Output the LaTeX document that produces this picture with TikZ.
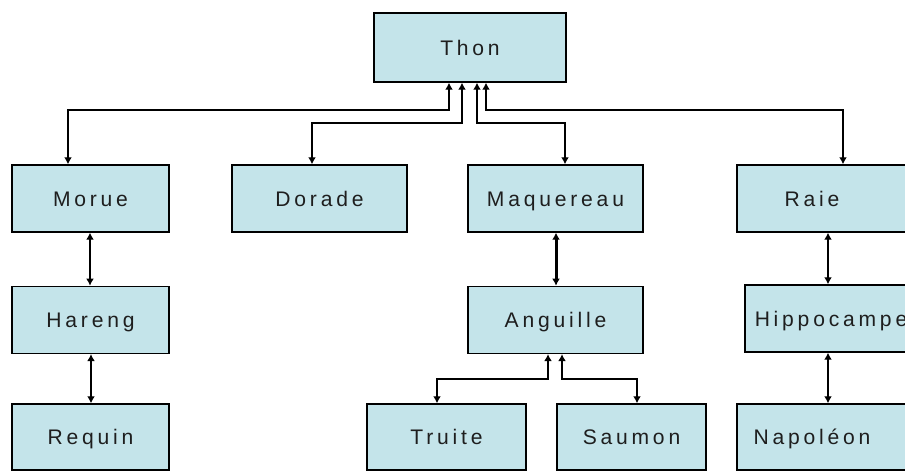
\documentclass[tikz,border=0pt]{standalone}
\usepackage{fontspec}
\setmainfont{Liberation Sans}[LetterSpace=18]
\usetikzlibrary{arrows.meta,positioning}
\definecolor{boxblue}{RGB}{196,228,234}
\definecolor{fishtext}{RGB}{30,30,30}

\begin{document}
\begin{tikzpicture}[
    x=0.02cm,
    y=-0.02cm,
    node distance=1.06cm,
    font=\fontsize{12}{14}\selectfont,
    fish/.style={
		rectangle,
		draw=black,
		line width=0.8pt,
		fill=boxblue,
		text=fishtext,
		inner sep=0pt,
		text height=0.9em,
		text depth=0pt,
		minimum height=1.34cm
	},
	link/.style={
		line width=1.1pt,
		{Latex[length=4pt,width=4.5pt]}-{Latex[length=4pt,width=4.5pt]}
	},
	heavy/.style={
		line width=1.7pt
	}
  ]

\useasboundingbox (0,0) rectangle (905,472);
\fill [white] (0,0) rectangle (905,472);

% // The root
 \node [fish, minimum width=3.84cm, minimum height=1.38cm] (thon) at (470,47.5) {Thon};

% // First row
 \node [fish, minimum width=3.14cm] (morue) at (90.5,198.5) {Morue};
 \node [fish, minimum width=3.5cm] (dorade) at (319.5,198.5) {Dorade};
 \node [fish, minimum width=3.5cm] (maquereau) at (555.5,198.5) {Maquereau};
 \node [fish, minimum width=3.6cm] (raie) at (827,198.5) {Raie\hspace*{0.6cm}};

% // Second row
 \node [fish, minimum width=3.14cm, below=of morue] (hareng) {Hareng};
 \node [fish, minimum width=3.5cm, below=of maquereau] (anguille) {Anguille};
 \node [fish, minimum width=3.44cm] (hippocampe) at (831,318.5) {Hippocampe};

% // Third row
 \node [fish, minimum width=3.14cm, minimum height=1.32cm] (requin) at (90.5,437) {Requin};
 \node [fish, minimum width=3.18cm, minimum height=1.32cm] (truite) at (446.5,437) {Truite};
 \node [fish, minimum width=2.98cm, minimum height=1.32cm] (saumon) at (631.5,437) {Saumon};
 \node [fish, minimum width=3.6cm, minimum height=1.32cm] (napoleon) at (827,437) {Napol\'eon\hspace*{0.6cm}};

% // Thon to its children
 \draw [link] (thon.south -| 449,0) -- (449,110) -| (morue.north -| 68,0);
 \draw [link] (thon.south -| 462,0) -- (462,123) -| (dorade.north -| 312,0);
 \draw [link] (thon.south -| 477,0) -- (477,123) -| (maquereau.north -| 565,0);
 \draw [link] (thon.south -| 486,0) -- (486,110) -| (raie.north -| 843,0);

% // Columns
 \draw [link, line width=0.9pt] (morue.south -| 90,0) -- (hareng.north -| 90,0);
 \draw [link, line width=0.9pt] (hareng.south -| 91,0) -- (requin.north -| 91,0);
 \draw [link, heavy] (maquereau.south -| 556,0) -- (anguille.north -| 556,0);
 \draw [link, line width=0.9pt] (raie.south -| 828,0) -- (hippocampe.north -| 828,0);
 \draw [link, line width=0.9pt] (hippocampe.south -| 828,0) -- (napoleon.north -| 828,0);

% // Anguille to its children
 \draw [link] (anguille.south -| 548,0) -- (548,379) -| (truite.north -| 437,0);
 \draw [link] (anguille.south -| 562,0) -- (562,379) -| (saumon.north -| 637,0);

\end{tikzpicture}
\end{document}
